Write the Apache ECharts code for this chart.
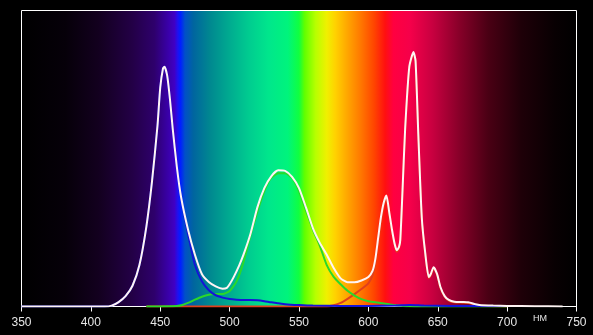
<!DOCTYPE html>
<html>
<head>
<meta charset="utf-8">
<script src="https://cdn.jsdelivr.net/npm/echarts@6/dist/echarts.min.js"></script>
<style>
html,body{margin:0;padding:0;background:#000;}
#c{width:593px;height:335px;}
</style>
</head>
<body>
<div id="c"></div>
<script>
// Axis ticks
var xTicks = [350, 400, 450, 500, 550, 600, 650, 700, 750];
var unitLabel = 'НМ';

// White (total) spectrum
var whiteNm  = [350,400,410,415,420,425,430,435,440,444,448,450,452,453,455,457,459,462,465,470,475,480,485,490,495,498,500,503,507,510,515,520,525,530,535,540,545,550,555,560,565,570,575,580,585,590,595,600,603,605,607,609,611,613,615,617,619,620.5,622,623,624.5,626.5,629.5,632.5,634,636,638.5,641,643.5,645,647,649.5,652,655,658,662,668,672,677,680,690,700,720,740];
var whiteVal = [0,0,0,0.3,1.5,3.5,7,14,27,42,61,74,80.5,81,78,70,60,47,37,26,17.5,11,8.3,6.8,6,6.3,7.5,10,14,17.5,24.5,33.5,40,44,46,45.8,43.8,40,33.5,26.5,21.5,17.5,13,9.5,8.2,8.2,8.8,10,12,16,23,30,35,37.5,32,26,21,19,20,22.5,38,60,81,86,83,58,30,18,10,11,13.3,11,6.5,3.5,2.2,1.6,1.5,1.4,0.8,0.5,0.3,0.2,0.1,0];

// Blue channel
var blueNm  = [350,410,415,420,425,430,435,440,444,448,450,452,453,455,457,459,462,465,470,475,480,485,490,495,500,505,510,515,520,525,530,535,540,550,560,580,600,620,630,640,660,703];
var blueVal = [0,0,0.3,1.5,3.5,7,14,27,42,61,74,80.5,81,78,70,60,47,36.5,24.5,14,8.5,5.5,3.8,3.0,2.5,2.3,2.2,2.2,2.1,1.8,1.4,1.1,0.8,0.5,0.3,0.2,0.2,0.3,0.5,0.3,0.2,0.2];

// Green channel
var greenNm  = [440,462,466,470,475,480,485,490,495,500,505,510,515,520,525,530,535,540,545,550,555,560,565,570,575,580,585,590,595,600,605,610,615,620,625,630,640,700];
var greenVal = [0,0.2,0.5,1.2,2.3,3.3,4.0,4.2,4.2,5.2,8.5,15,24,32,39,43.5,45,45,43.5,39,32.5,26,20.5,14,10,7.5,5.3,3.7,2.5,1.8,1.4,1.1,0.8,0.4,0.2,0.1,0,0];

// Red channel
var redNm  = [440,570,575,580,585,590,595,600,603,605,607,609,611,613,615,617,619,620.5,622,623,624.5,626.5,629.5,632.5,634,636,638.5,641,643.5,645,647,649.5,652,655,658,662,668,672,677,680,690,700];
var redVal = [0,0,0.4,1.2,2.6,4.2,5.9,7.8,10.5,14.5,21.5,28.8,34,36.5,31,25.3,20.5,18.5,19.6,22.1,37.6,59.7,80.6,85.6,82.6,57.6,29.6,17.6,9.6,10.6,13,10.7,6.2,3.3,2.0,1.4,1.3,1.2,0.6,0.3,0.1,0];

function pairs(xs, ys){ var out=[]; for(var i=0;i<xs.length;i++) out.push([xs[i], ys[i]]); return out; }

var chart = echarts.init(document.getElementById('c'), null, {renderer:'canvas'});

var spectrum = {
  type:'linear', x:0, y:0, x2:1, y2:0,
  colorStops:[
    {offset:0.000, color:'#000000'},
    {offset:0.080, color:'#060009'},
    {offset:0.140, color:'#13001f'},
    {offset:0.200, color:'#230046'},
    {offset:0.240, color:'#2e006c'},
    {offset:0.262, color:'#3800a2'},
    {offset:0.276, color:'#4000c4'},
    {offset:0.282, color:'#2010f0'},
    {offset:0.287, color:'#0020ff'},
    {offset:0.295, color:'#0050c8'},
    {offset:0.310, color:'#00659f'},
    {offset:0.340, color:'#008890'},
    {offset:0.372, color:'#00a890'},
    {offset:0.410, color:'#00cc90'},
    {offset:0.445, color:'#00e68c'},
    {offset:0.480, color:'#00f47c'},
    {offset:0.500, color:'#10ff40'},
    {offset:0.510, color:'#60ff00'},
    {offset:0.530, color:'#b8ff00'},
    {offset:0.550, color:'#f0f000'},
    {offset:0.565, color:'#ffd200'},
    {offset:0.585, color:'#ffaa00'},
    {offset:0.610, color:'#ff7a00'},
    {offset:0.635, color:'#ff4500'},
    {offset:0.655, color:'#ff1010'},
    {offset:0.670, color:'#ff0040'},
    {offset:0.700, color:'#f5004a'},
    {offset:0.740, color:'#c80040'},
    {offset:0.790, color:'#850028'},
    {offset:0.840, color:'#4a0014'},
    {offset:0.900, color:'#1e0008'},
    {offset:0.960, color:'#080002'},
    {offset:1.000, color:'#000000'}
  ]
};

var option = {
  backgroundColor:'#000000',
  animation:false,
  grid:{
    show:true, left:21.5, right:16.5, top:10.5, bottom:28.5,
    backgroundColor: spectrum,
    borderColor:'#ffffff', borderWidth:1
  },
  xAxis:{
    type:'value', min:350, max:750, interval:50,
    axisLine:{show:true, lineStyle:{color:'#ffffff', width:1}},
    axisTick:{show:true, inside:false, length:5, lineStyle:{color:'#ffffff', width:1}},
    axisLabel:{color:'#e6e6e6', fontSize:12, fontFamily:'Liberation Sans, Arial, sans-serif', margin:10,
      formatter:function(v){ return xTicks.indexOf(v) >= 0 ? String(v) : ''; }},
    splitLine:{show:false}
  },
  yAxis:{
    type:'value', min:0, max:100, show:false,
    axisLine:{show:false}, splitLine:{show:false}
  },
  graphic:[{
    type:'text', left:533, top:314,
    style:{text:unitLabel, fill:'#e6e6e6', fontSize:9, fontFamily:'Liberation Sans, Arial, sans-serif'}
  }],
  series:[
    {type:'line', data:pairs(redNm, redVal), showSymbol:false, smooth:0.2, lineStyle:{color:'#e0401c', width:2}, z:2},
    {type:'line', data:pairs(greenNm, greenVal), showSymbol:false, smooth:0.2, lineStyle:{color:'#2ad82a', width:2}, z:3},
    {type:'line', data:pairs(blueNm, blueVal), showSymbol:false, smooth:0.2, lineStyle:{color:'#1414d8', width:2}, z:4},
    {type:'line', data:pairs(whiteNm, whiteVal), showSymbol:false, smooth:0.2, lineStyle:{color:'#fff4f4', width:2}, z:5}
  ]
};
chart.setOption(option);
</script>
</body>
</html>
